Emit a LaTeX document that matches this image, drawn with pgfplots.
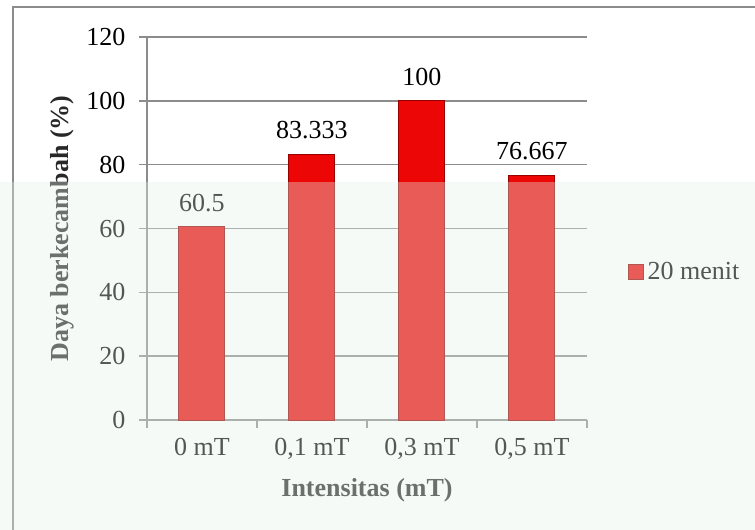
\documentclass[border=0pt]{standalone}
\usepackage{fontspec}
\setmainfont{Liberation Serif}
\usepackage{pgfplots}
\pgfplotsset{compat=1.18}

\definecolor{gridgray}{RGB}{140,140,140}
\definecolor{labelgray}{RGB}{40,40,40}
\definecolor{barfill}{RGB}{236,6,6}
\definecolor{barline}{RGB}{150,0,0}
\definecolor{haze}{RGB}{226,242,232}

\begin{document}
\begin{tikzpicture}[x=1pt,y=1pt]
  \useasboundingbox (0,0) rectangle (377.5,265);
  % outer chart frame
  \draw[gridgray, line width=0.7pt] (6.5,-20) rectangle (400,261.5);

  \begin{axis}[
    at={(73.5pt,55pt)}, anchor=south west,
    scale only axis, width=220pt, height=191.5pt,
    xmin=-0.5, xmax=3.5, ymin=0, ymax=120,
    ytick={0,20,...,120},
    xtick={-0.5,0.5,1.5,2.5,3.5},
    x tick label as interval,
    xticklabels={{0 mT},{0,1 mT},{0,3 mT},{0,5 mT}},
    axis x line*=bottom, axis y line*=left,
    axis line style={gridgray, line width=0.7pt},
    tick style={gridgray, line width=0.7pt},
    tick align=outside, major tick length=3.8pt,
    ymajorgrids, grid style={gridgray, line width=0.7pt},
    /pgf/number format/assume math mode=true,
    tick label style={font=\fontsize{13}{15}\selectfont, text=black},
    yticklabel style={xshift=-3.5pt},
    xticklabel style={yshift=-2pt},
    xlabel={\textbf{Intensitas (mT)}},
    ylabel={\textbf{Daya berkecambah (\%)}},
    label style={font=\fontsize{13}{15}\selectfont, text=labelgray},
    xlabel style={at={(axis description cs:0.5,-0.183)}, anchor=center},
    ylabel style={at={(axis description cs:-0.193,0.5)}, anchor=center},
    legend style={at={(axis description cs:1.093,0.386)}, anchor=west,
      draw=none, fill=none, inner sep=0pt,
      font=\fontsize{13}{15}\selectfont,
      /tikz/every even column/.append style={column sep=2pt}},
    legend cell align=left,
    legend image code/.code={%
      \draw[#1] (0pt,-3.6pt) rectangle (7.2pt,3.6pt);},
    nodes near coords,
    point meta=explicit symbolic,
    every node near coord/.append style={
      font=\fontsize{13}{15}\selectfont, text=black,
      anchor=center, yshift=12pt},
    clip=false,
  ]
    \addplot[ybar, bar width=23pt, bar shift=0pt,
      draw=barline, line width=0.5pt, fill=barfill]
      coordinates {(0,60.5)[60.5] (1,83.333)[83.333] (2,100)[100] (3,76.667)[76.667]};
    \addlegendentry{20 menit}
  \end{axis}

  % pale band laid over the lower part of the page
  \fill[haze, opacity=0.36] (-5,-5) rectangle (400,174);
\end{tikzpicture}
\end{document}
